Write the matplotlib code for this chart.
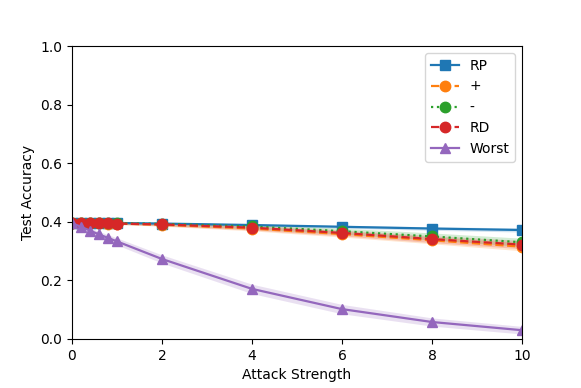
import matplotlib
matplotlib.use("Agg")
import matplotlib.pyplot as plt
import numpy as np

x = [0, 0.2, 0.4, 0.6, 0.8, 1, 2, 4, 6, 8, 10]
rp = [0.397, 0.397, 0.397, 0.397, 0.396, 0.396, 0.394, 0.389, 0.383, 0.377, 0.372]
plus = [0.396, 0.396, 0.395, 0.395, 0.394, 0.394, 0.390, 0.377, 0.358, 0.337, 0.315]
minus = [0.397, 0.397, 0.396, 0.396, 0.395, 0.395, 0.393, 0.384, 0.368, 0.350, 0.330]
rd = [0.396, 0.396, 0.396, 0.395, 0.395, 0.394, 0.391, 0.380, 0.362, 0.341, 0.322]
worst = [0.395, 0.383, 0.370, 0.357, 0.345, 0.333, 0.273, 0.171, 0.102, 0.058, 0.030]

rp_err = [0.002, 0.002, 0.002, 0.002, 0.002, 0.002, 0.003, 0.004, 0.005, 0.006, 0.007]
plus_err = [0.003, 0.003, 0.003, 0.003, 0.003, 0.003, 0.005, 0.008, 0.010, 0.012, 0.014]
minus_err = [0.003, 0.003, 0.003, 0.003, 0.003, 0.003, 0.005, 0.008, 0.010, 0.012, 0.014]
rd_err = [0.003, 0.003, 0.003, 0.003, 0.003, 0.003, 0.005, 0.008, 0.010, 0.012, 0.014]
worst_err = [0.006, 0.008, 0.009, 0.010, 0.011, 0.012, 0.014, 0.016, 0.016, 0.014, 0.013]

series = [
    ("RP", rp, rp_err, "#1f77b4", "-", "s"),
    ("+", plus, plus_err, "#ff7f0e", "--", "o"),
    ("-", minus, minus_err, "#2ca02c", ":", "o"),
    ("RD", rd, rd_err, "#d62728", "--", "o"),
    ("Worst", worst, worst_err, "#9467bd", "-", "^"),
]

fig = plt.figure(figsize=(5.81, 3.88), dpi=100)
ax = fig.add_axes([72/581, 49/388, 450/581, 293/388])
for name, y, e, c, ls, m in series:
    y = np.array(y); e = np.array(e)
    ax.plot(x, y, color=c, linestyle=ls, marker=m, label=name, markersize=7.5, linewidth=1.6)
    ax.fill_between(x, y - e, y + e, color=c, alpha=0.2, linewidth=0)

ax.set_xlim(0, 10)
ax.set_ylim(0, 1.0)
ax.set_xticks([0, 2, 4, 6, 8, 10])
ax.set_yticks([0, 0.2, 0.4, 0.6, 0.8, 1.0])
ax.tick_params(labelsize=10)
ax.set_xlabel("Attack Strength", fontsize=10)
ax.set_ylabel("Test Accuracy", fontsize=10)
ax.legend(loc="upper right", fontsize=10)
fig.savefig("out.png", dpi=100)
